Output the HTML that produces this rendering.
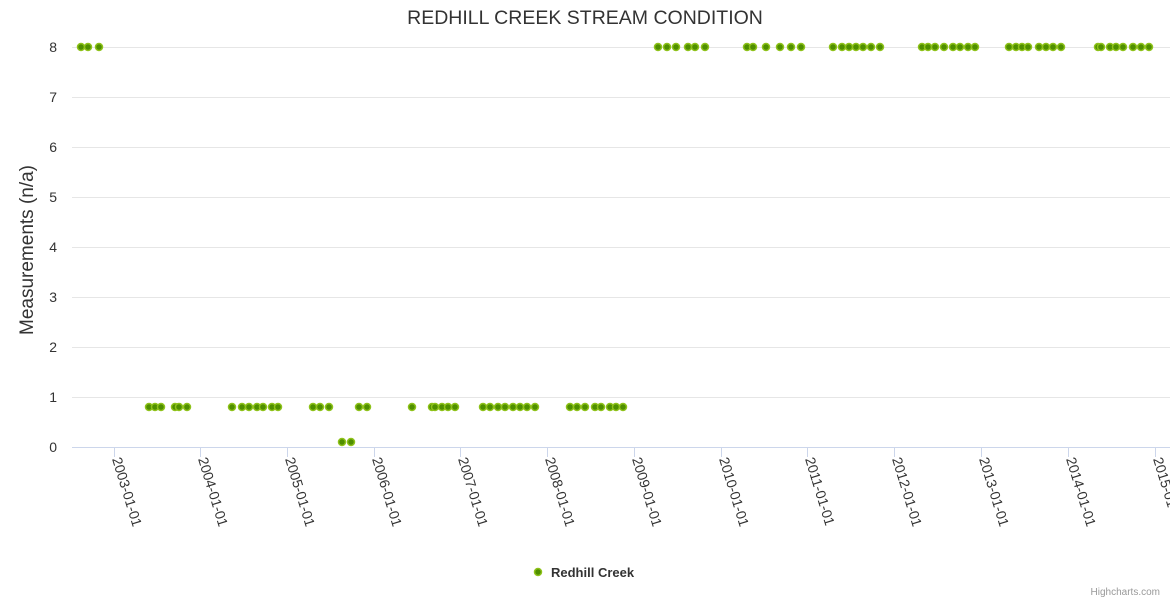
<!DOCTYPE html>
<html><head><meta charset="utf-8"><style>
html,body{margin:0;padding:0;background:#fff;}
svg{display:block;font-family:"Liberation Sans",sans-serif;}
</style></head><body>
<svg width="1170" height="600" xmlns="http://www.w3.org/2000/svg">
<text x="585" y="24" text-anchor="middle" font-size="19.5" fill="#333">REDHILL CREEK STREAM CONDITION</text>
<g stroke="#e6e6e6" stroke-width="1">
<line x1="72" x2="1170" y1="47.5" y2="47.5"/><line x1="72" x2="1170" y1="97.5" y2="97.5"/>
<line x1="72" x2="1170" y1="147.5" y2="147.5"/><line x1="72" x2="1170" y1="197.5" y2="197.5"/>
<line x1="72" x2="1170" y1="247.5" y2="247.5"/><line x1="72" x2="1170" y1="297.5" y2="297.5"/>
<line x1="72" x2="1170" y1="347.5" y2="347.5"/><line x1="72" x2="1170" y1="397.5" y2="397.5"/>
</g>
<line x1="72" x2="1170" y1="447.5" y2="447.5" stroke="#ccd6eb"/>
<g font-size="14" fill="#333" text-anchor="end">
<text x="57" y="52">8</text><text x="57" y="102">7</text><text x="57" y="152">6</text><text x="57" y="202">5</text>
<text x="57" y="252">4</text><text x="57" y="302">3</text><text x="57" y="352">2</text><text x="57" y="402">1</text><text x="57" y="452">0</text>
</g>
<text transform="translate(33,250) rotate(-90)" text-anchor="middle" font-size="19" fill="#333">Measurements (n/a)</text>
<g stroke="#ccd6eb">
<line x1="114.5" x2="114.5" y1="447" y2="457"/><line x1="200.5" x2="200.5" y1="447" y2="457"/>
<line x1="287.5" x2="287.5" y1="447" y2="457"/><line x1="374.5" x2="374.5" y1="447" y2="457"/>
<line x1="460.5" x2="460.5" y1="447" y2="457"/><line x1="547.5" x2="547.5" y1="447" y2="457"/>
<line x1="634.5" x2="634.5" y1="447" y2="457"/><line x1="721.5" x2="721.5" y1="447" y2="457"/>
<line x1="807.5" x2="807.5" y1="447" y2="457"/><line x1="894.5" x2="894.5" y1="447" y2="457"/>
<line x1="981.5" x2="981.5" y1="447" y2="457"/><line x1="1068.5" x2="1068.5" y1="447" y2="457"/>
<line x1="1155.5" x2="1155.5" y1="447" y2="457"/>
</g>
<g font-size="14" fill="#333">
<text transform="translate(112,459) rotate(73)">2003-01-01</text>
<text transform="translate(198,459) rotate(73)">2004-01-01</text>
<text transform="translate(285,459) rotate(73)">2005-01-01</text>
<text transform="translate(372,459) rotate(73)">2006-01-01</text>
<text transform="translate(458,459) rotate(73)">2007-01-01</text>
<text transform="translate(545,459) rotate(73)">2008-01-01</text>
<text transform="translate(632,459) rotate(73)">2009-01-01</text>
<text transform="translate(719,459) rotate(73)">2010-01-01</text>
<text transform="translate(805,459) rotate(73)">2011-01-01</text>
<text transform="translate(892,459) rotate(73)">2012-01-01</text>
<text transform="translate(979,459) rotate(73)">2013-01-01</text>
<text transform="translate(1066,459) rotate(73)">2014-01-01</text>
<text transform="translate(1153,459) rotate(73)">2015-01-01</text>
</g>
<g id="pts" fill="#4f8f00" stroke="#8ec21a" stroke-width="1.5"></g>
<circle cx="538" cy="572" r="3.5" fill="#4f8f00" stroke="#8ec21a" stroke-width="1.5"/>
<text x="551" y="577" font-size="13" font-weight="bold" fill="#333">Redhill Creek</text>
<text x="1160" y="595" text-anchor="end" font-size="10" fill="#999">Highcharts.com</text>
</svg>
<script>
var g=document.getElementById('pts');
var p8=[81,88,99,658,667,676,688,695,705,747,753,766,780,791,801,833,842,849,856,863,871,880,922,928,935,944,953,960,968,975,1009,1016,1022,1028,1039,1046,1053,1061,1098,1101,1110,1116,1123,1133,1141,1149];
var p1=[149,155,161,175,179,187,232,242,249,257,263,272,278,313,320,329,359,367,412,432,435,442,448,455,483,490,498,505,513,520,527,535,570,577,585,595,601,610,616,623];
var p0=[342,351];
function add(xs,y){xs.forEach(function(x){var c=document.createElementNS('http://www.w3.org/2000/svg','circle');c.setAttribute('cx',x);c.setAttribute('cy',y);c.setAttribute('r',3.5);g.appendChild(c);});}
add(p8,47);add(p1,407);add(p0,442);
</script>
</body></html>
